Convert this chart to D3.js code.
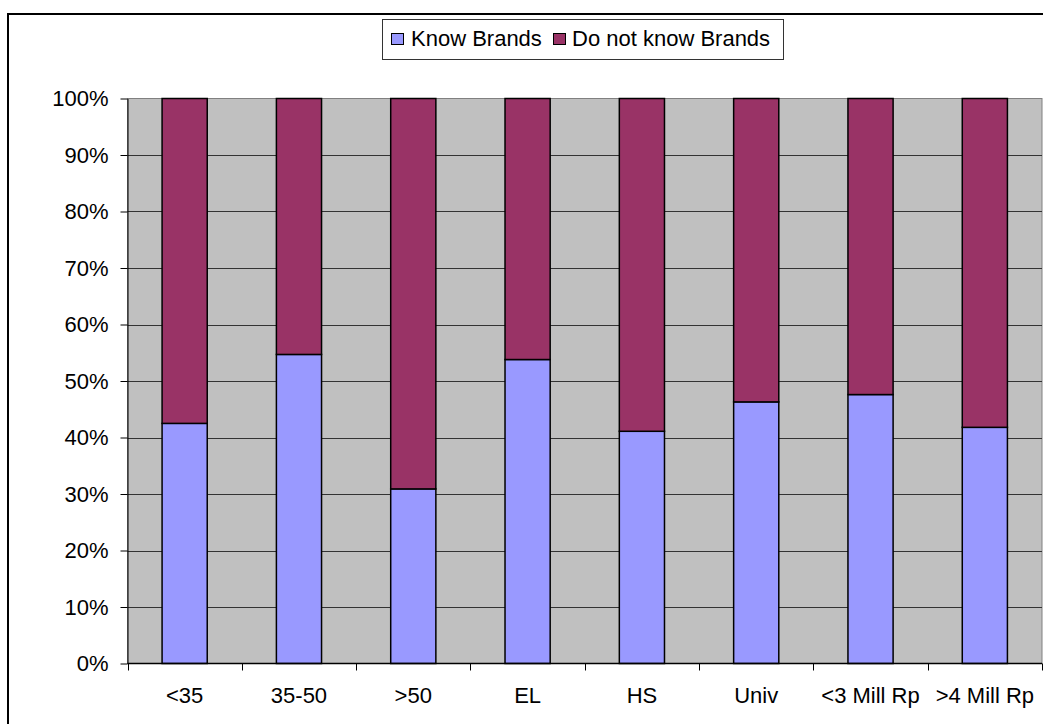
<!DOCTYPE html>
<html>
<head>
<meta charset="utf-8">
<script src="https://cdn.jsdelivr.net/npm/d3@7"></script>
<style>
  html, body { margin: 0; padding: 0; background: #fff; }
  svg { display: block; }
  text { font-family: "Liberation Sans", Arial, sans-serif; fill: #000; }
</style>
</head>
<body>
<svg id="chart" width="1043" height="724"></svg>
<script>
// Brand awareness by respondent group (share of respondents, %)
const categories = ["<35", "35-50", ">50", "EL", "HS", "Univ", "<3 Mill Rp", ">4 Mill Rp"];
const knowBrands = [42.5, 54.7, 30.9, 53.8, 41.1, 46.3, 47.6, 41.8];
const dontKnowBrands = [57.5, 45.3, 69.1, 46.2, 58.9, 53.7, 52.4, 58.2];
const seriesNames = ["Know Brands", "Do not know Brands"];
const seriesColors = ["#9999FF", "#993366"];
const yTickValues = [0, 10, 20, 30, 40, 50, 60, 70, 80, 90, 100];

const svg = d3.select("#chart");
const plot = { left: 127.5, right: 1042, top: 98.5, bottom: 663.5 };

// outer chart frame
svg.append("rect")
  .attr("x", 8).attr("y", 14)
  .attr("width", 1100).attr("height", 800)
  .attr("fill", "none").attr("stroke", "#000").attr("stroke-width", 2);

const x = d3.scaleBand().domain(categories).range([plot.left, plot.right]).padding(0);
const y = d3.scaleLinear().domain([0, 100]).range([plot.bottom, plot.top]);

// plot background
svg.append("rect")
  .attr("x", plot.left).attr("y", plot.top)
  .attr("width", plot.right - plot.left).attr("height", plot.bottom - plot.top)
  .attr("fill", "#C0C0C0").attr("stroke", "#808080").attr("stroke-width", 1);

// horizontal gridlines
svg.append("g").selectAll("line")
  .data(yTickValues.filter(v => v > 0 && v < 100))
  .join("line")
  .attr("x1", plot.left).attr("x2", plot.right)
  .attr("y1", d => Math.round(y(d)) + 0.5).attr("y2", d => Math.round(y(d)) + 0.5)
  .attr("stroke", "#333").attr("stroke-width", 1);

// stacked bars
const rows = categories.map((c, i) => ({ cat: c, know: knowBrands[i], dont: dontKnowBrands[i] }));
const stack = d3.stack().keys(["know", "dont"]);
const layers = stack(rows);
const barW = x.bandwidth() * 0.395;

svg.append("g").selectAll("g")
  .data(layers)
  .join("g")
  .attr("fill", (d, i) => seriesColors[i])
  .selectAll("rect")
  .data(d => d)
  .join("rect")
  .attr("x", d => x(d.data.cat) + (x.bandwidth() - barW) / 2)
  .attr("y", d => y(d[1]))
  .attr("width", barW)
  .attr("height", d => y(d[0]) - y(d[1]))
  .attr("stroke", "#000").attr("stroke-width", 1.5);

// y axis
const yAxis = d3.axisLeft(y)
  .tickValues(yTickValues)
  .tickFormat(d => d + "%")
  .tickSizeInner(7).tickSizeOuter(0).tickPadding(12);
const gy = svg.append("g").attr("transform", `translate(${plot.left},0)`).call(yAxis);
gy.select(".domain").attr("stroke", "#000");
gy.selectAll(".tick line").attr("stroke", "#000");
gy.selectAll("text").style("font-size", "22px").style("font-family", "Liberation Sans, Arial, sans-serif").attr("fill", "#000");

// x axis: ticks at category boundaries, labels centred in each band
const gx = svg.append("g").attr("transform", `translate(0,${plot.bottom})`);
gx.append("line")
  .attr("x1", plot.left).attr("x2", plot.right)
  .attr("y1", 0).attr("y2", 0)
  .attr("stroke", "#000").attr("stroke-width", 1.5);
const boundaries = categories.map(c => x(c)).concat([plot.right]);
gx.selectAll("line.tick")
  .data(boundaries)
  .join("line")
  .attr("class", "tick")
  .attr("x1", d => Math.round(d) + 0.5).attr("x2", d => Math.round(d) + 0.5)
  .attr("y1", 0).attr("y2", 7)
  .attr("stroke", "#000").attr("stroke-width", 1);
gx.selectAll("text")
  .data(categories)
  .join("text")
  .attr("x", d => x(d) + x.bandwidth() / 2)
  .attr("y", 39)
  .attr("text-anchor", "middle")
  .style("font-size", "22px")
  .text(d => d);

// legend
const legend = svg.append("g");
legend.append("rect")
  .attr("x", 382.5).attr("y", 19.5)
  .attr("width", 401).attr("height", 40)
  .attr("fill", "#fff").attr("stroke", "#333").attr("stroke-width", 1);
const legendItems = [
  { name: seriesNames[0], color: seriesColors[0], sx: 391, tx: 411 },
  { name: seriesNames[1], color: seriesColors[1], sx: 553, tx: 572 }
];
legend.selectAll("rect.sw")
  .data(legendItems)
  .join("rect")
  .attr("class", "sw")
  .attr("x", d => d.sx + 0.5).attr("y", 33.5)
  .attr("width", 12).attr("height", 11)
  .attr("fill", d => d.color).attr("stroke", "#000").attr("stroke-width", 1);
legend.selectAll("text")
  .data(legendItems)
  .join("text")
  .attr("x", d => d.tx).attr("y", 46)
  .style("font-size", "22px")
  .text(d => d.name);
</script>
</body>
</html>
